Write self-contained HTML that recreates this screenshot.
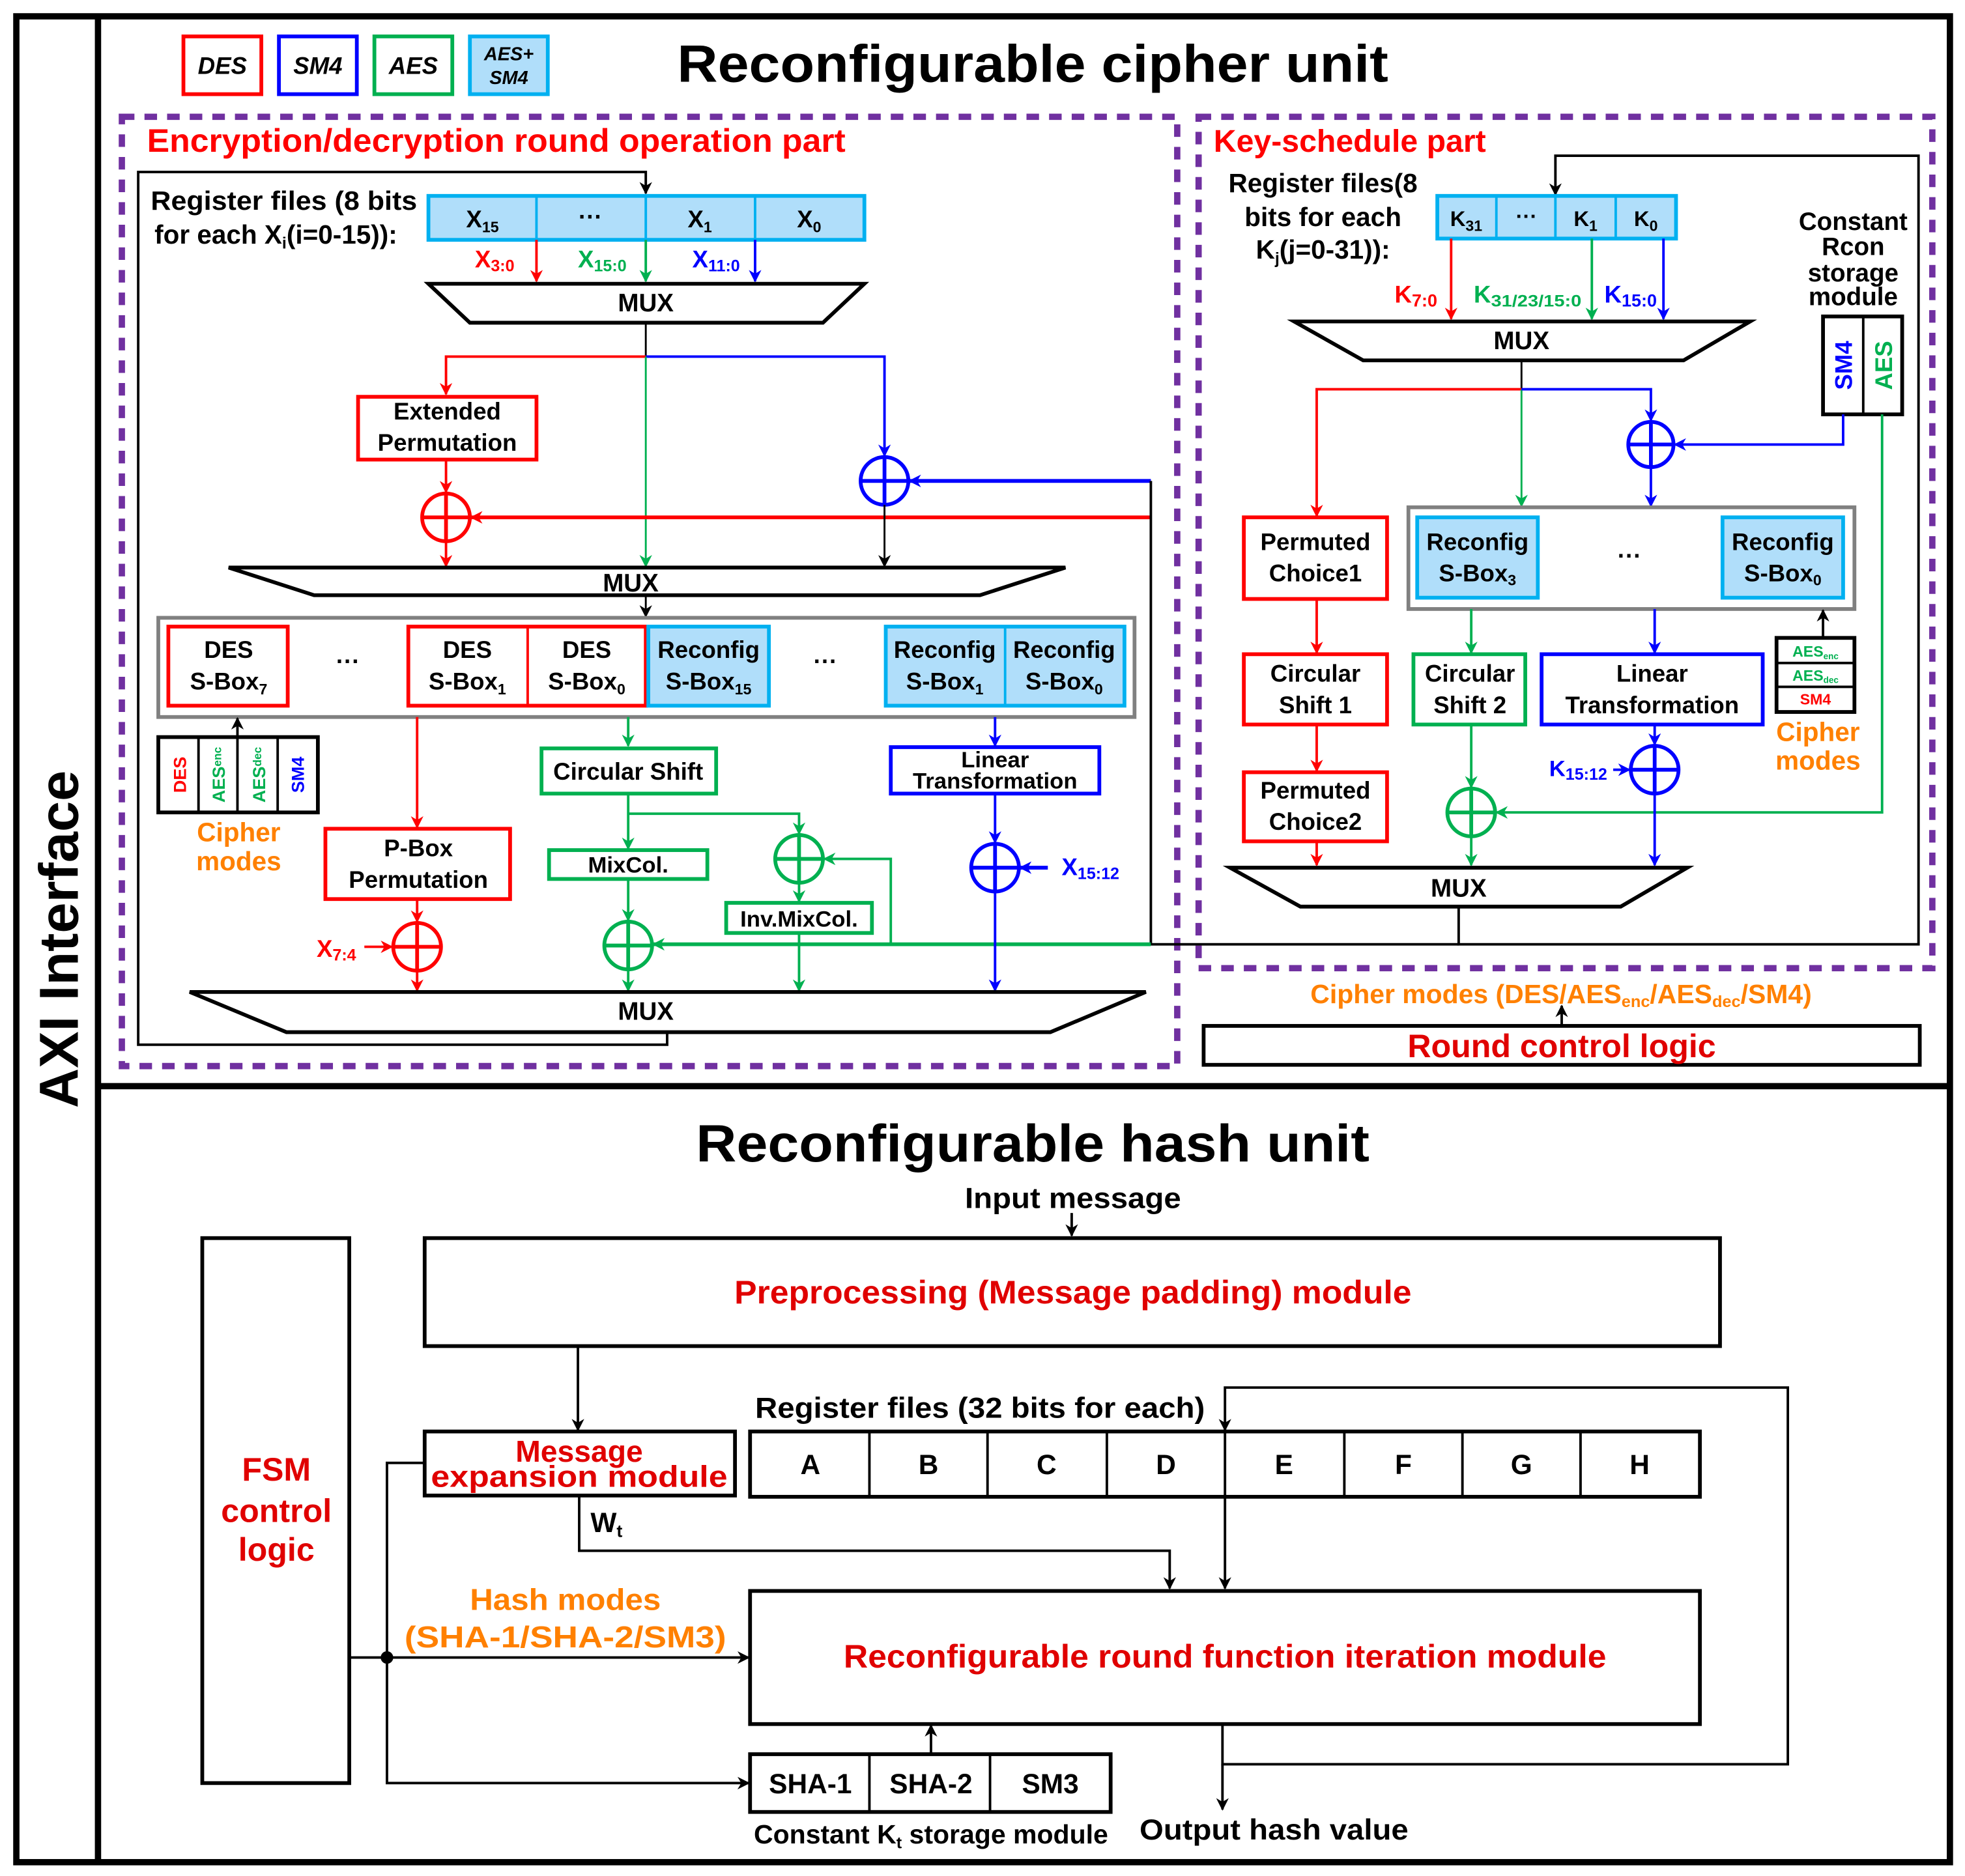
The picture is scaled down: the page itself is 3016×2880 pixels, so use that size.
<!DOCTYPE html>
<html><head><meta charset="utf-8"><style>
html,body{margin:0;padding:0;background:#fff}
svg{display:block}
text{font-family:"Liberation Sans",sans-serif;font-weight:bold}
</style></head><body>
<svg width="3016" height="2880" viewBox="0 0 1564 1494" preserveAspectRatio="none" xmlns="http://www.w3.org/2000/svg">
<defs>
<marker id="ak" markerWidth="10" markerHeight="10" refX="9" refY="5" orient="auto" markerUnits="userSpaceOnUse"><path d="M0,0 L10,5 L0,10 L3,5 z" fill="#000"/></marker>
<marker id="ar" markerWidth="10" markerHeight="10" refX="9" refY="5" orient="auto" markerUnits="userSpaceOnUse"><path d="M0,0 L10,5 L0,10 L3,5 z" fill="#f00"/></marker>
<marker id="ag" markerWidth="10" markerHeight="10" refX="9" refY="5" orient="auto" markerUnits="userSpaceOnUse"><path d="M0,0 L10,5 L0,10 L3,5 z" fill="#00b050"/></marker>
<marker id="ab" markerWidth="10" markerHeight="10" refX="9" refY="5" orient="auto" markerUnits="userSpaceOnUse"><path d="M0,0 L10,5 L0,10 L3,5 z" fill="#00f"/></marker>
</defs>
<rect x="0" y="0" width="1564" height="1494" fill="#fff"/>
<!-- outer -->
<rect x="13" y="13" width="1539" height="1470" fill="none" stroke="#000" stroke-width="5"/>
<line x1="78" y1="13" x2="78" y2="1483" stroke="#000" stroke-width="5"/>
<line x1="78" y1="865" x2="1552" y2="865" stroke="#000" stroke-width="5"/>
<text transform="translate(62,748) rotate(-90)" font-size="44" text-anchor="middle">AXI Interface</text>

<!-- legend -->
<rect x="146" y="29" width="62" height="46" fill="none" stroke="#f00" stroke-width="3"/>
<text x="177" y="59" font-size="19" font-style="italic" text-anchor="middle">DES</text>
<rect x="222" y="29" width="62" height="46" fill="none" stroke="#00f" stroke-width="3"/>
<text x="253" y="59" font-size="19" font-style="italic" text-anchor="middle">SM4</text>
<rect x="298" y="29" width="62" height="46" fill="none" stroke="#00b050" stroke-width="3"/>
<text x="329" y="59" font-size="19" font-style="italic" text-anchor="middle">AES</text>
<rect x="374" y="29" width="62" height="46" fill="#b0defa" stroke="#00b0f0" stroke-width="3"/>
<text x="405" y="48" font-size="15" font-style="italic" text-anchor="middle">AES+</text>
<text x="405" y="67" font-size="15" font-style="italic" text-anchor="middle">SM4</text>
<text x="822" y="65" font-size="42" text-anchor="middle" textLength="566" lengthAdjust="spacingAndGlyphs">Reconfigurable cipher unit</text>

<!-- dashed regions -->
<rect x="97" y="93" width="840" height="756" fill="none" stroke="#7030a0" stroke-width="5" stroke-dasharray="10,8"/>
<rect x="954" y="93" width="584" height="678" fill="none" stroke="#7030a0" stroke-width="5" stroke-dasharray="10,8"/>

<!-- LEFT PART -->
<text x="117" y="121" font-size="26" fill="#f00" textLength="556" lengthAdjust="spacingAndGlyphs">Encryption/decryption round operation part</text>
<polyline points="531,822 531,832 110,832 110,137 514,137 514,154" fill="none" stroke="#000" stroke-width="2" marker-end="url(#ak)"/>
<text x="120" y="167" font-size="21" textLength="212" lengthAdjust="spacingAndGlyphs">Register files (8 bits</text>
<text x="123" y="194" font-size="21">for each X<tspan font-size="13" dy="4">i</tspan><tspan dy="-4">(i=0-15)):</tspan></text>
<rect x="341" y="156" width="347" height="35" fill="#b0defa" stroke="#00b0f0" stroke-width="3"/>
<line x1="427" y1="156" x2="427" y2="191" stroke="#00b0f0" stroke-width="2"/>
<line x1="514" y1="156" x2="514" y2="191" stroke="#00b0f0" stroke-width="2"/>
<line x1="601" y1="156" x2="601" y2="191" stroke="#00b0f0" stroke-width="2"/>
<text x="384" y="181" font-size="19" text-anchor="middle">X<tspan font-size="12" dy="4">15</tspan></text>
<text x="470" y="179" font-size="19" text-anchor="middle">···</text>
<text x="557" y="181" font-size="19" text-anchor="middle">X<tspan font-size="12" dy="4">1</tspan></text>
<text x="644" y="181" font-size="19" text-anchor="middle">X<tspan font-size="12" dy="4">0</tspan></text>
<line x1="427" y1="191" x2="427" y2="224" stroke="#f00" stroke-width="2" marker-end="url(#ar)"/>
<line x1="514" y1="191" x2="514" y2="224" stroke="#00b050" stroke-width="2" marker-end="url(#ag)"/>
<line x1="601" y1="191" x2="601" y2="224" stroke="#00f" stroke-width="2" marker-end="url(#ab)"/>
<text x="378" y="213" font-size="19" fill="#f00">X<tspan font-size="13" dy="3">3:0</tspan></text>
<text x="460" y="213" font-size="19" fill="#00b050">X<tspan font-size="13" dy="3">15:0</tspan></text>
<text x="551" y="213" font-size="19" fill="#00f">X<tspan font-size="13" dy="3">11:0</tspan></text>
<polygon points="341,226 688,226 655,257 374,257" fill="#fff" stroke="#000" stroke-width="3"/>
<text x="514" y="248" font-size="20" text-anchor="middle">MUX</text>
<line x1="514" y1="257" x2="514" y2="284" stroke="#000" stroke-width="1.5"/>
<polyline points="514,284 355,284 355,314" fill="none" stroke="#f00" stroke-width="2" marker-end="url(#ar)"/>
<polyline points="514,284 704,284 704,363" fill="none" stroke="#00f" stroke-width="2" marker-end="url(#ab)"/>
<line x1="514" y1="284" x2="514" y2="451" stroke="#00b050" stroke-width="1.5" marker-end="url(#ag)"/>
<rect x="285" y="316" width="142" height="50" fill="#fff" stroke="#f00" stroke-width="3"/>
<text x="356" y="334" font-size="19" text-anchor="middle">Extended</text>
<text x="356" y="359" font-size="19" text-anchor="middle">Permutation</text>
<line x1="355" y1="366" x2="355" y2="392" stroke="#f00" stroke-width="2" marker-end="url(#ar)"/>
<line x1="355" y1="431" x2="355" y2="451" stroke="#f00" stroke-width="2" marker-end="url(#ar)"/>
<line x1="916" y1="412" x2="375" y2="412" stroke="#f00" stroke-width="3" marker-end="url(#ar)"/>
<circle cx="355" cy="412" r="19" fill="none" stroke="#f00" stroke-width="3"/>
<line x1="336" y1="412" x2="374" y2="412" stroke="#f00" stroke-width="3"/><line x1="355" y1="393" x2="355" y2="431" stroke="#f00" stroke-width="3"/>
<line x1="916" y1="383" x2="724" y2="383" stroke="#00f" stroke-width="3" marker-end="url(#ab)"/>
<circle cx="704" cy="383" r="19" fill="none" stroke="#00f" stroke-width="3"/>
<line x1="685" y1="383" x2="723" y2="383" stroke="#00f" stroke-width="3"/><line x1="704" y1="364" x2="704" y2="402" stroke="#00f" stroke-width="3"/>
<line x1="704" y1="402" x2="704" y2="451" stroke="#000" stroke-width="1.5" marker-end="url(#ak)"/>
<line x1="916" y1="383" x2="916" y2="752" stroke="#000" stroke-width="2"/>
<polygon points="182,452 848,452 780,474 250,474" fill="#fff" stroke="#000" stroke-width="3"/>
<text x="502" y="471" font-size="20" text-anchor="middle">MUX</text>
<line x1="514" y1="474" x2="514" y2="491" stroke="#000" stroke-width="1.5" marker-end="url(#ak)"/>
<rect x="126" y="492" width="777" height="79" fill="none" stroke="#808080" stroke-width="3"/>
<rect x="134" y="499" width="95" height="63" fill="#fff" stroke="#f00" stroke-width="3"/>
<text x="182" y="524" font-size="19" text-anchor="middle">DES</text>
<text x="182" y="549" font-size="19" text-anchor="middle">S-Box<tspan font-size="12" dy="4">7</tspan></text>
<text x="277" y="533" font-size="19" text-anchor="middle">···</text>
<rect x="325" y="499" width="189" height="63" fill="#fff" stroke="#f00" stroke-width="3"/>
<line x1="420" y1="499" x2="420" y2="562" stroke="#f00" stroke-width="2"/>
<text x="372" y="524" font-size="19" text-anchor="middle">DES</text>
<text x="372" y="549" font-size="19" text-anchor="middle">S-Box<tspan font-size="12" dy="4">1</tspan></text>
<text x="467" y="524" font-size="19" text-anchor="middle">DES</text>
<text x="467" y="549" font-size="19" text-anchor="middle">S-Box<tspan font-size="12" dy="4">0</tspan></text>
<rect x="516" y="499" width="96" height="63" fill="#b0defa" stroke="#00b0f0" stroke-width="3"/>
<text x="564" y="524" font-size="19" text-anchor="middle">Reconfig</text>
<text x="564" y="549" font-size="19" text-anchor="middle">S-Box<tspan font-size="12" dy="4">15</tspan></text>
<text x="657" y="533" font-size="19" text-anchor="middle">···</text>
<rect x="705" y="499" width="190" height="63" fill="#b0defa" stroke="#00b0f0" stroke-width="3"/>
<line x1="800" y1="499" x2="800" y2="562" stroke="#00b0f0" stroke-width="2"/>
<text x="752" y="524" font-size="19" text-anchor="middle">Reconfig</text>
<text x="752" y="549" font-size="19" text-anchor="middle">S-Box<tspan font-size="12" dy="4">1</tspan></text>
<text x="847" y="524" font-size="19" text-anchor="middle">Reconfig</text>
<text x="847" y="549" font-size="19" text-anchor="middle">S-Box<tspan font-size="12" dy="4">0</tspan></text>
<!-- cipher modes left -->
<rect x="126" y="587" width="127" height="60" fill="#fff" stroke="#000" stroke-width="3"/>
<line x1="158" y1="587" x2="158" y2="647" stroke="#000" stroke-width="2"/>
<line x1="189" y1="587" x2="189" y2="647" stroke="#000" stroke-width="2"/>
<line x1="221" y1="587" x2="221" y2="647" stroke="#000" stroke-width="2"/>
<text transform="translate(148,617) rotate(-90)" font-size="14" fill="#f00" text-anchor="middle">DES</text>
<text transform="translate(179,617) rotate(-90)" font-size="14" fill="#00b050" text-anchor="middle">AES<tspan font-size="9" dy="-3">enc</tspan></text>
<text transform="translate(211,617) rotate(-90)" font-size="14" fill="#00b050" text-anchor="middle">AES<tspan font-size="9" dy="-3">dec</tspan></text>
<text transform="translate(242,617) rotate(-90)" font-size="14" fill="#00f" text-anchor="middle">SM4</text>
<line x1="189" y1="587" x2="189" y2="572" stroke="#000" stroke-width="2" marker-end="url(#ak)"/>
<text x="190" y="670" font-size="21" fill="#ff8000" text-anchor="middle">Cipher</text>
<text x="190" y="693" font-size="21" fill="#ff8000" text-anchor="middle">modes</text>
<!-- red path -->
<line x1="332" y1="571" x2="332" y2="659" stroke="#f00" stroke-width="2" marker-end="url(#ar)"/>
<rect x="259" y="660" width="147" height="56" fill="#fff" stroke="#f00" stroke-width="3"/>
<text x="333" y="682" font-size="19" text-anchor="middle">P-Box</text>
<text x="333" y="707" font-size="19" text-anchor="middle">Permutation</text>
<line x1="332" y1="716" x2="332" y2="734" stroke="#f00" stroke-width="2" marker-end="url(#ar)"/>
<circle cx="332" cy="754" r="19" fill="none" stroke="#f00" stroke-width="3"/>
<line x1="313" y1="754" x2="351" y2="754" stroke="#f00" stroke-width="3"/><line x1="332" y1="735" x2="332" y2="773" stroke="#f00" stroke-width="3"/>
<line x1="290" y1="754" x2="312" y2="754" stroke="#f00" stroke-width="2" marker-end="url(#ar)"/>
<text x="252" y="762" font-size="19" fill="#f00">X<tspan font-size="13" dy="3">7:4</tspan></text>
<line x1="332" y1="773" x2="332" y2="789" stroke="#f00" stroke-width="2" marker-end="url(#ar)"/>
<!-- green path -->
<line x1="500" y1="571" x2="500" y2="594" stroke="#00b050" stroke-width="2" marker-end="url(#ag)"/>
<rect x="431" y="596" width="139" height="36" fill="#fff" stroke="#00b050" stroke-width="3"/>
<text x="500" y="621" font-size="19" text-anchor="middle">Circular Shift</text>
<line x1="500" y1="632" x2="500" y2="676" stroke="#00b050" stroke-width="2" marker-end="url(#ag)"/>
<polyline points="500,648 636,648 636,664" fill="none" stroke="#00b050" stroke-width="2" marker-end="url(#ag)"/>
<rect x="437" y="677" width="126" height="23" fill="#fff" stroke="#00b050" stroke-width="3"/>
<text x="500" y="695" font-size="18" text-anchor="middle">MixCol.</text>
<line x1="500" y1="700" x2="500" y2="733" stroke="#00b050" stroke-width="2" marker-end="url(#ag)"/>
<circle cx="500" cy="753" r="19" fill="none" stroke="#00b050" stroke-width="3"/>
<line x1="481" y1="753" x2="519" y2="753" stroke="#00b050" stroke-width="3"/><line x1="500" y1="734" x2="500" y2="772" stroke="#00b050" stroke-width="3"/>
<line x1="500" y1="772" x2="500" y2="789" stroke="#00b050" stroke-width="2" marker-end="url(#ag)"/>
<circle cx="636" cy="684" r="19" fill="none" stroke="#00b050" stroke-width="3"/>
<line x1="617" y1="684" x2="655" y2="684" stroke="#00b050" stroke-width="3"/><line x1="636" y1="665" x2="636" y2="703" stroke="#00b050" stroke-width="3"/>
<line x1="636" y1="703" x2="636" y2="718" stroke="#00b050" stroke-width="2" marker-end="url(#ag)"/>
<rect x="578" y="719" width="116" height="24" fill="#fff" stroke="#00b050" stroke-width="3"/>
<text x="636" y="738" font-size="18" text-anchor="middle">Inv.MixCol.</text>
<line x1="636" y1="743" x2="636" y2="789" stroke="#00b050" stroke-width="2" marker-end="url(#ag)"/>
<polyline points="709,752 709,684 656,684" fill="none" stroke="#00b050" stroke-width="2" marker-end="url(#ag)"/>
<line x1="916" y1="752" x2="520" y2="752" stroke="#00b050" stroke-width="3" marker-end="url(#ag)"/>
<!-- blue path -->
<line x1="792" y1="571" x2="792" y2="594" stroke="#00f" stroke-width="2" marker-end="url(#ab)"/>
<rect x="709" y="595" width="166" height="37" fill="#fff" stroke="#00f" stroke-width="3"/>
<text x="792" y="611" font-size="18" text-anchor="middle">Linear</text>
<text x="792" y="628" font-size="18" text-anchor="middle">Transformation</text>
<line x1="792" y1="632" x2="792" y2="671" stroke="#00f" stroke-width="2" marker-end="url(#ab)"/>
<circle cx="792" cy="691" r="19" fill="none" stroke="#00f" stroke-width="3"/>
<line x1="773" y1="691" x2="811" y2="691" stroke="#00f" stroke-width="3"/><line x1="792" y1="672" x2="792" y2="710" stroke="#00f" stroke-width="3"/>
<line x1="834" y1="691" x2="812" y2="691" stroke="#00f" stroke-width="3" marker-end="url(#ab)"/>
<text x="845" y="697" font-size="19" fill="#00f">X<tspan font-size="13" dy="3">15:12</tspan></text>
<line x1="792" y1="710" x2="792" y2="789" stroke="#00f" stroke-width="2" marker-end="url(#ab)"/>
<polygon points="151,790 912,790 836,822 228,822" fill="#fff" stroke="#000" stroke-width="3"/>
<text x="514" y="812" font-size="20" text-anchor="middle">MUX</text>

<!-- RIGHT PART -->
<text x="966" y="121" font-size="25" fill="#f00">Key-schedule part</text>
<text x="1053" y="153" font-size="21" text-anchor="middle">Register files(8</text>
<text x="1053" y="180" font-size="21" text-anchor="middle">bits for each</text>
<text x="1053" y="206" font-size="21" text-anchor="middle">K<tspan font-size="13" dy="4">j</tspan><tspan dy="-4">(j=0-31)):</tspan></text>
<polyline points="1161,722 1161,752 1527,752 1527,124 1238,124 1238,155" fill="none" stroke="#000" stroke-width="2" marker-end="url(#ak)"/>
<line x1="916" y1="752" x2="1161" y2="752" stroke="#000" stroke-width="2"/>
<rect x="1144" y="156" width="190" height="34" fill="#b0defa" stroke="#00b0f0" stroke-width="3"/>
<line x1="1191" y1="156" x2="1191" y2="190" stroke="#00b0f0" stroke-width="2"/>
<line x1="1238" y1="156" x2="1238" y2="190" stroke="#00b0f0" stroke-width="2"/>
<line x1="1286" y1="156" x2="1286" y2="190" stroke="#00b0f0" stroke-width="2"/>
<text x="1167" y="180" font-size="17" text-anchor="middle">K<tspan font-size="12" dy="4">31</tspan></text>
<text x="1215" y="178" font-size="17" text-anchor="middle">···</text>
<text x="1262" y="180" font-size="17" text-anchor="middle">K<tspan font-size="12" dy="4">1</tspan></text>
<text x="1310" y="180" font-size="17" text-anchor="middle">K<tspan font-size="12" dy="4">0</tspan></text>
<line x1="1155" y1="190" x2="1155" y2="254" stroke="#f00" stroke-width="2" marker-end="url(#ar)"/>
<line x1="1267" y1="190" x2="1267" y2="254" stroke="#00b050" stroke-width="2" marker-end="url(#ag)"/>
<line x1="1324" y1="190" x2="1324" y2="254" stroke="#00f" stroke-width="2" marker-end="url(#ab)"/>
<text x="1110" y="241" font-size="19" fill="#f00">K<tspan font-size="14" dy="3">7:0</tspan></text>
<text x="1173" y="241" font-size="19" fill="#00b050">K<tspan font-size="13" dy="3" textLength="72" lengthAdjust="spacingAndGlyphs">31/23/15:0</tspan></text>
<text x="1277" y="241" font-size="19" fill="#00f">K<tspan font-size="14" dy="3">15:0</tspan></text>
<polygon points="1030,256 1393,256 1340,287 1085,287" fill="#fff" stroke="#000" stroke-width="3"/>
<text x="1211" y="278" font-size="20" text-anchor="middle">MUX</text>
<line x1="1211" y1="287" x2="1211" y2="310" stroke="#000" stroke-width="1.5"/>
<polyline points="1211,310 1048,310 1048,411" fill="none" stroke="#f00" stroke-width="2" marker-end="url(#ar)"/>
<line x1="1211" y1="310" x2="1211" y2="403" stroke="#00b050" stroke-width="1.5" marker-end="url(#ag)"/>
<polyline points="1211,310 1314,310 1314,335" fill="none" stroke="#00f" stroke-width="2" marker-end="url(#ab)"/>
<circle cx="1314" cy="354" r="18" fill="none" stroke="#00f" stroke-width="3"/>
<line x1="1296" y1="354" x2="1332" y2="354" stroke="#00f" stroke-width="3"/><line x1="1314" y1="336" x2="1314" y2="372" stroke="#00f" stroke-width="3"/>
<line x1="1314" y1="372" x2="1314" y2="403" stroke="#00f" stroke-width="2" marker-end="url(#ab)"/>
<text x="1475" y="183" font-size="20" text-anchor="middle">Constant</text>
<text x="1475" y="203" font-size="20" text-anchor="middle">Rcon</text>
<text x="1475" y="224" font-size="20" text-anchor="middle">storage</text>
<text x="1475" y="243" font-size="20" text-anchor="middle">module</text>
<rect x="1451" y="252" width="63" height="78" fill="#fff" stroke="#000" stroke-width="3"/>
<line x1="1483" y1="252" x2="1483" y2="330" stroke="#000" stroke-width="2"/>
<text transform="translate(1474,291) rotate(-90)" font-size="19" fill="#00f" text-anchor="middle">SM4</text>
<text transform="translate(1506,291) rotate(-90)" font-size="19" fill="#00b050" text-anchor="middle">AES</text>
<polyline points="1467,330 1467,354 1333,354" fill="none" stroke="#00f" stroke-width="2" marker-end="url(#ab)"/>
<polyline points="1498,330 1498,647 1191,647" fill="none" stroke="#00b050" stroke-width="2" marker-end="url(#ag)"/>
<rect x="1121" y="404" width="355" height="81" fill="none" stroke="#808080" stroke-width="3"/>
<rect x="1128" y="412" width="96" height="64" fill="#b0defa" stroke="#00b0f0" stroke-width="3"/>
<text x="1176" y="438" font-size="19" text-anchor="middle">Reconfig</text>
<text x="1176" y="463" font-size="19" text-anchor="middle">S-Box<tspan font-size="12" dy="3">3</tspan></text>
<text x="1297" y="449" font-size="19" text-anchor="middle">···</text>
<rect x="1371" y="412" width="96" height="64" fill="#b0defa" stroke="#00b0f0" stroke-width="3"/>
<text x="1419" y="438" font-size="19" text-anchor="middle">Reconfig</text>
<text x="1419" y="463" font-size="19" text-anchor="middle">S-Box<tspan font-size="12" dy="3">0</tspan></text>
<rect x="990" y="412" width="114" height="65" fill="#fff" stroke="#f00" stroke-width="3"/>
<text x="1047" y="438" font-size="19" text-anchor="middle">Permuted</text>
<text x="1047" y="463" font-size="19" text-anchor="middle">Choice1</text>
<line x1="1048" y1="477" x2="1048" y2="520" stroke="#f00" stroke-width="2" marker-end="url(#ar)"/>
<rect x="990" y="521" width="114" height="56" fill="#fff" stroke="#f00" stroke-width="3"/>
<text x="1047" y="543" font-size="19" text-anchor="middle">Circular</text>
<text x="1047" y="568" font-size="19" text-anchor="middle">Shift 1</text>
<line x1="1048" y1="577" x2="1048" y2="614" stroke="#f00" stroke-width="2" marker-end="url(#ar)"/>
<rect x="990" y="615" width="114" height="55" fill="#fff" stroke="#f00" stroke-width="3"/>
<text x="1047" y="636" font-size="19" text-anchor="middle">Permuted</text>
<text x="1047" y="661" font-size="19" text-anchor="middle">Choice2</text>
<line x1="1048" y1="670" x2="1048" y2="689" stroke="#f00" stroke-width="2" marker-end="url(#ar)"/>
<line x1="1171" y1="485" x2="1171" y2="520" stroke="#00b050" stroke-width="2" marker-end="url(#ag)"/>
<rect x="1125" y="521" width="89" height="56" fill="#fff" stroke="#00b050" stroke-width="3"/>
<text x="1170" y="543" font-size="19" text-anchor="middle">Circular</text>
<text x="1170" y="568" font-size="19" text-anchor="middle">Shift 2</text>
<line x1="1171" y1="577" x2="1171" y2="627" stroke="#00b050" stroke-width="2" marker-end="url(#ag)"/>
<circle cx="1171" cy="647" r="19" fill="none" stroke="#00b050" stroke-width="3"/>
<line x1="1152" y1="647" x2="1190" y2="647" stroke="#00b050" stroke-width="3"/><line x1="1171" y1="628" x2="1171" y2="666" stroke="#00b050" stroke-width="3"/>
<line x1="1171" y1="666" x2="1171" y2="689" stroke="#00b050" stroke-width="2" marker-end="url(#ag)"/>
<line x1="1317" y1="485" x2="1317" y2="520" stroke="#00f" stroke-width="2" marker-end="url(#ab)"/>
<rect x="1227" y="521" width="176" height="56" fill="#fff" stroke="#00f" stroke-width="3"/>
<text x="1315" y="543" font-size="19" text-anchor="middle">Linear</text>
<text x="1315" y="568" font-size="19" text-anchor="middle">Transformation</text>
<line x1="1317" y1="577" x2="1317" y2="593" stroke="#00f" stroke-width="2" marker-end="url(#ab)"/>
<circle cx="1317" cy="613" r="19" fill="none" stroke="#00f" stroke-width="3"/>
<line x1="1298" y1="613" x2="1336" y2="613" stroke="#00f" stroke-width="3"/><line x1="1317" y1="594" x2="1317" y2="632" stroke="#00f" stroke-width="3"/>
<line x1="1284" y1="613" x2="1297" y2="613" stroke="#00f" stroke-width="2" marker-end="url(#ab)"/>
<text x="1233" y="618" font-size="18" fill="#00f">K<tspan font-size="13" dy="3">15:12</tspan></text>
<line x1="1317" y1="632" x2="1317" y2="689" stroke="#00f" stroke-width="2" marker-end="url(#ab)"/>
<rect x="1414" y="508" width="62" height="59" fill="#fff" stroke="#000" stroke-width="3"/>
<line x1="1414" y1="528" x2="1476" y2="528" stroke="#000" stroke-width="2"/>
<line x1="1414" y1="547" x2="1476" y2="547" stroke="#000" stroke-width="2"/>
<text x="1445" y="523" font-size="12" fill="#00b050" text-anchor="middle">AES<tspan font-size="7" dy="2">enc</tspan></text>
<text x="1445" y="542" font-size="12" fill="#00b050" text-anchor="middle">AES<tspan font-size="7" dy="2">dec</tspan></text>
<text x="1445" y="561" font-size="12" fill="#f00" text-anchor="middle">SM4</text>
<line x1="1451" y1="508" x2="1451" y2="486" stroke="#000" stroke-width="2" marker-end="url(#ak)"/>
<text x="1447" y="590" font-size="21" fill="#ff8000" text-anchor="middle">Cipher</text>
<text x="1447" y="613" font-size="21" fill="#ff8000" text-anchor="middle">modes</text>
<polygon points="979,691 1343,691 1290,722 1035,722" fill="#fff" stroke="#000" stroke-width="3"/>
<text x="1161" y="714" font-size="20" text-anchor="middle">MUX</text>
<text x="1043" y="799" font-size="21" fill="#ff8000" textLength="399" lengthAdjust="spacingAndGlyphs">Cipher modes (DES/AES<tspan font-size="13" dy="3">enc</tspan><tspan dy="-3">/AES</tspan><tspan font-size="13" dy="3">dec</tspan><tspan dy="-3">/SM4)</tspan></text>
<line x1="1243" y1="817" x2="1243" y2="801" stroke="#000" stroke-width="2" marker-end="url(#ak)"/>
<rect x="958" y="817" width="570" height="31" fill="#fff" stroke="#000" stroke-width="3"/>
<text x="1243" y="842" font-size="26" fill="#e00000" text-anchor="middle">Round control logic</text>

<!-- HASH UNIT -->
<text x="822" y="925" font-size="42" text-anchor="middle" textLength="536" lengthAdjust="spacingAndGlyphs">Reconfigurable hash unit</text>
<text x="854" y="962" font-size="23" text-anchor="middle" textLength="172" lengthAdjust="spacingAndGlyphs">Input message</text>
<line x1="853" y1="966" x2="853" y2="984" stroke="#000" stroke-width="2" marker-end="url(#ak)"/>
<rect x="338" y="986" width="1031" height="86" fill="#fff" stroke="#000" stroke-width="3"/>
<text x="854" y="1038" font-size="26" fill="#e00000" text-anchor="middle" textLength="539" lengthAdjust="spacingAndGlyphs">Preprocessing (Message padding) module</text>
<rect x="161" y="986" width="117" height="434" fill="#fff" stroke="#000" stroke-width="3"/>
<text x="220" y="1179" font-size="26" fill="#e00000" text-anchor="middle">FSM</text>
<text x="220" y="1212" font-size="26" fill="#e00000" text-anchor="middle">control</text>
<text x="220" y="1243" font-size="26" fill="#e00000" text-anchor="middle">logic</text>
<line x1="460" y1="1072" x2="460" y2="1139" stroke="#000" stroke-width="2" marker-end="url(#ak)"/>
<rect x="338" y="1140" width="247" height="51" fill="#fff" stroke="#000" stroke-width="3"/>
<text x="461" y="1164" font-size="24" fill="#e00000" text-anchor="middle">Message</text>
<text x="461" y="1184" font-size="24" fill="#e00000" text-anchor="middle" textLength="236" lengthAdjust="spacingAndGlyphs">expansion module</text>
<text x="780" y="1129" font-size="23" text-anchor="middle" textLength="358" lengthAdjust="spacingAndGlyphs">Register files (32 bits for each)</text>
<rect x="597" y="1140" width="756" height="52" fill="#fff" stroke="#000" stroke-width="3"/>
<line x1="692" y1="1140" x2="692" y2="1192" stroke="#000" stroke-width="2"/>
<line x1="786" y1="1140" x2="786" y2="1192" stroke="#000" stroke-width="2"/>
<line x1="881" y1="1140" x2="881" y2="1192" stroke="#000" stroke-width="2"/>
<line x1="975" y1="1140" x2="975" y2="1192" stroke="#000" stroke-width="2"/>
<line x1="1070" y1="1140" x2="1070" y2="1192" stroke="#000" stroke-width="2"/>
<line x1="1164" y1="1140" x2="1164" y2="1192" stroke="#000" stroke-width="2"/>
<line x1="1258" y1="1140" x2="1258" y2="1192" stroke="#000" stroke-width="2"/>
<text x="645" y="1174" font-size="22" text-anchor="middle">A</text>
<text x="739" y="1174" font-size="22" text-anchor="middle">B</text>
<text x="833" y="1174" font-size="22" text-anchor="middle">C</text>
<text x="928" y="1174" font-size="22" text-anchor="middle">D</text>
<text x="1022" y="1174" font-size="22" text-anchor="middle">E</text>
<text x="1117" y="1174" font-size="22" text-anchor="middle">F</text>
<text x="1211" y="1174" font-size="22" text-anchor="middle">G</text>
<text x="1305" y="1174" font-size="22" text-anchor="middle">H</text>
<polyline points="973,1373 973,1405 1423,1405 1423,1105 975,1105 975,1139" fill="none" stroke="#000" stroke-width="2" marker-end="url(#ak)"/>
<line x1="975" y1="1192" x2="975" y2="1265" stroke="#000" stroke-width="2" marker-end="url(#ak)"/>
<polyline points="461,1191 461,1235 931,1235 931,1265" fill="none" stroke="#000" stroke-width="2" marker-end="url(#ak)"/>
<text x="470" y="1220" font-size="22">W<tspan font-size="14" dy="4">t</tspan></text>
<rect x="597" y="1267" width="756" height="106" fill="#fff" stroke="#000" stroke-width="3"/>
<text x="975" y="1328" font-size="26" fill="#e00000" text-anchor="middle" textLength="607" lengthAdjust="spacingAndGlyphs">Reconfigurable round function iteration module</text>
<polyline points="338,1165 308,1165 308,1420 596,1420" fill="none" stroke="#000" stroke-width="2" marker-end="url(#ak)"/>
<line x1="278" y1="1320" x2="596" y2="1320" stroke="#000" stroke-width="2" marker-end="url(#ak)"/>
<circle cx="308" cy="1320" r="5" fill="#000"/>
<text x="450" y="1282" font-size="24" fill="#ff8000" text-anchor="middle" textLength="152" lengthAdjust="spacingAndGlyphs">Hash modes</text>
<text x="450" y="1312" font-size="24" fill="#ff8000" text-anchor="middle" textLength="256" lengthAdjust="spacingAndGlyphs">(SHA-1/SHA-2/SM3)</text>
<rect x="597" y="1397" width="287" height="46" fill="#fff" stroke="#000" stroke-width="3"/>
<line x1="692" y1="1397" x2="692" y2="1443" stroke="#000" stroke-width="2"/>
<line x1="788" y1="1397" x2="788" y2="1443" stroke="#000" stroke-width="2"/>
<text x="645" y="1428" font-size="22" text-anchor="middle">SHA-1</text>
<text x="741" y="1428" font-size="22" text-anchor="middle">SHA-2</text>
<text x="836" y="1428" font-size="22" text-anchor="middle">SM3</text>
<line x1="741" y1="1397" x2="741" y2="1374" stroke="#000" stroke-width="2" marker-end="url(#ak)"/>
<text x="600" y="1468" font-size="21" textLength="282" lengthAdjust="spacingAndGlyphs">Constant K<tspan font-size="13" dy="4">t</tspan><tspan dy="-4"> storage module</tspan></text>
<line x1="973" y1="1405" x2="973" y2="1441" stroke="#000" stroke-width="2" marker-end="url(#ak)"/>
<text x="1014" y="1465" font-size="23" text-anchor="middle" textLength="214" lengthAdjust="spacingAndGlyphs">Output hash value</text>
</svg>
</body></html>
